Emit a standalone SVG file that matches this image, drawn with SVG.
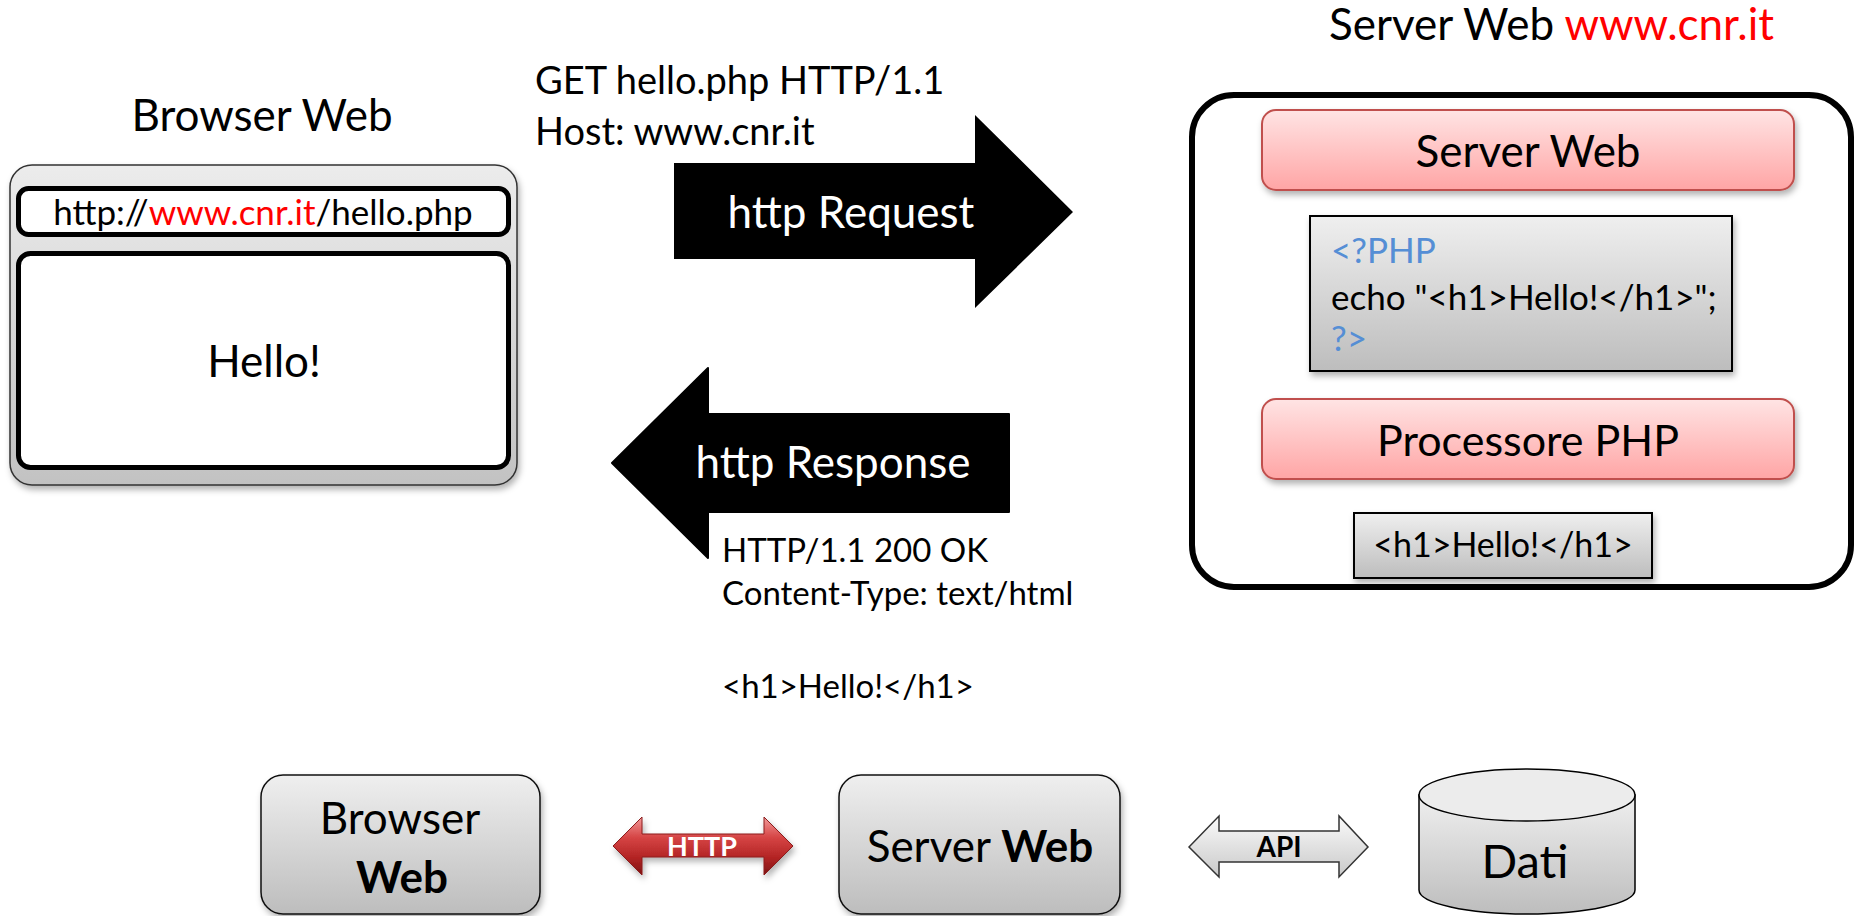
<svg xmlns="http://www.w3.org/2000/svg" width="1866" height="916" viewBox="0 0 1866 916">
<defs>
<linearGradient id="gGray" x1="0" y1="0" x2="0" y2="1"><stop offset="0" stop-color="#efefef"/><stop offset="1" stop-color="#bdbdbd"/></linearGradient>
<linearGradient id="gWin" x1="0" y1="0" x2="0" y2="1"><stop offset="0" stop-color="#ececec"/><stop offset="1" stop-color="#c2c2c2"/></linearGradient>
<linearGradient id="gPink" x1="0" y1="0" x2="0" y2="1"><stop offset="0" stop-color="#ffe4e4"/><stop offset="1" stop-color="#ffa5a5"/></linearGradient>
<linearGradient id="gRed" x1="0" y1="0" x2="0" y2="1"><stop offset="0" stop-color="#f29a9a"/><stop offset="0.35" stop-color="#d64545"/><stop offset="0.7" stop-color="#b32424"/><stop offset="1" stop-color="#7d1414"/></linearGradient>
<linearGradient id="gApi" x1="0" y1="0" x2="0" y2="1"><stop offset="0" stop-color="#fafafa"/><stop offset="1" stop-color="#c9c9c9"/></linearGradient>
<filter id="sh" x="-10%" y="-10%" width="125%" height="135%"><feDropShadow dx="2" dy="4" stdDeviation="3" flood-color="#000" flood-opacity="0.3"/></filter>
</defs>
<style>
text{font-family:Lato,"Open Sans","Liberation Sans",sans-serif;fill:#000}
.w{fill:#fff}
.red{fill:#ff0000}
.blue{fill:#558ed5}
.b{font-weight:bold}
.gbox{fill:url(#gGray);stroke:#000;stroke-width:2}
.pink{fill:url(#gPink);stroke:#c0504d;stroke-width:2}
.bot{fill:url(#gGray);stroke:#111;stroke-width:1.5}
</style>

<g id="title-browser"><text x="262" y="131" font-size="44" text-anchor="middle">Browser Web</text></g>
<g id="title-server"><text x="1329" y="40" font-size="44">Server Web <tspan class="red">www.cnr.it</tspan></text></g>

<g id="browser-window">
<rect x="10" y="165" width="507" height="320" rx="22" fill="url(#gWin)" stroke="#333" stroke-width="1.5" filter="url(#sh)"/>
<rect x="18.5" y="188.5" width="490" height="46" rx="10" fill="#fff" stroke="#000" stroke-width="5"/>
<rect x="18.5" y="253.5" width="490" height="214" rx="12" fill="#fff" stroke="#000" stroke-width="5"/>
<text x="263" y="225" font-size="35" text-anchor="middle">http://<tspan class="red">www.cnr.it</tspan>/hello.php</text>
<text x="264" y="377" font-size="44" text-anchor="middle">Hello!</text>
</g>

<g id="request-text">
<text x="535" y="94" font-size="38">GET hello.php HTTP/1.1</text>
<text x="535" y="145" font-size="38">Host: www.cnr.it</text>
</g>

<g id="response-text">
<text x="722" y="562" font-size="33">HTTP/1.1 200 OK</text>
<text x="722" y="605" font-size="33">Content-Type: text/html</text>
<text x="722" y="698" font-size="33">&lt;h1&gt;Hello!&lt;/h1&gt;</text>
</g>

<g id="server-container">
<rect x="1192" y="95" width="659" height="492" rx="42" fill="#fff" stroke="#000" stroke-width="6"/>
</g>
<g id="server-web">
<rect class="pink" x="1262" y="110" width="532" height="80" rx="14" filter="url(#sh)"/>
<text x="1528" y="167" font-size="44" text-anchor="middle">Server Web</text>
</g>
<g id="php-code">
<rect class="gbox" x="1310" y="216" width="422" height="155" filter="url(#sh)"/>
<text x="1331" y="263" font-size="35" class="blue">&lt;?PHP</text>
<text x="1331" y="310" font-size="35">echo "&lt;h1&gt;Hello!&lt;/h1&gt;";</text>
<text x="1331" y="351" font-size="35" class="blue">?&gt;</text>
</g>
<g id="php-processor">
<rect class="pink" x="1262" y="399" width="532" height="80" rx="14" filter="url(#sh)"/>
<text x="1528" y="456" font-size="43" text-anchor="middle">Processore PHP</text>
</g>
<g id="html-output">
<rect class="gbox" x="1354" y="513" width="298" height="65" filter="url(#sh)"/>
<text x="1503" y="557" font-size="34" text-anchor="middle">&lt;h1&gt;Hello!&lt;/h1&gt;</text>
</g>

<g id="bottom-browser">
<rect class="bot" x="261" y="775" width="279" height="139" rx="22" filter="url(#sh)"/>
<text x="400" y="834" font-size="44" text-anchor="middle">Browser</text>
<text x="402" y="893" font-size="44" text-anchor="middle" class="b">Web</text>
</g>
<g id="bottom-server">
<rect class="bot" x="839" y="775" width="281" height="139" rx="22" filter="url(#sh)"/>
<text x="980" y="862" font-size="44" text-anchor="middle">Server <tspan class="b">Web</tspan></text>
</g>
<g id="bottom-data">
<path d="M1419,795 L1419,890 A108,24 0 0 0 1635,890 L1635,795 Z" fill="url(#gGray)" stroke="#000" stroke-width="1.5"/>
<ellipse cx="1527" cy="795" rx="108" ry="26" fill="#ececec" stroke="#000" stroke-width="1.5"/>
<text x="1525" y="878" font-size="47" text-anchor="middle">Dati</text>
</g>

<g id="connectors">
<polygon points="674,163 975,163 975,115 1073,212 975,308 975,259 674,259" fill="#000"/>
<text x="851" y="228" font-size="44" text-anchor="middle" class="w">http Request</text>
<polygon points="612,463 708,368 708,414 1009,414 1009,512 708,512 708,558" fill="#000" stroke="#000" stroke-width="2" stroke-linejoin="round"/>
<text x="833" y="478" font-size="44" text-anchor="middle" class="w">http Response</text>
<polygon points="613,846 642,817 642,834 764,834 764,817 793,846 764,875 764,857 642,857 642,875" fill="url(#gRed)" stroke="#8b1c1c" stroke-width="1" filter="url(#sh)"/>
<text x="702" y="856" font-size="27" text-anchor="middle" class="w b">HTTP</text>
<polygon points="1189,847 1219,816 1219,831 1339,831 1339,816 1368,847 1339,877 1339,862 1219,862 1219,877" fill="url(#gApi)" stroke="#333" stroke-width="1.5"/>
<text x="1279" y="857" font-size="28" text-anchor="middle" class="b">API</text>
</g>
</svg>
